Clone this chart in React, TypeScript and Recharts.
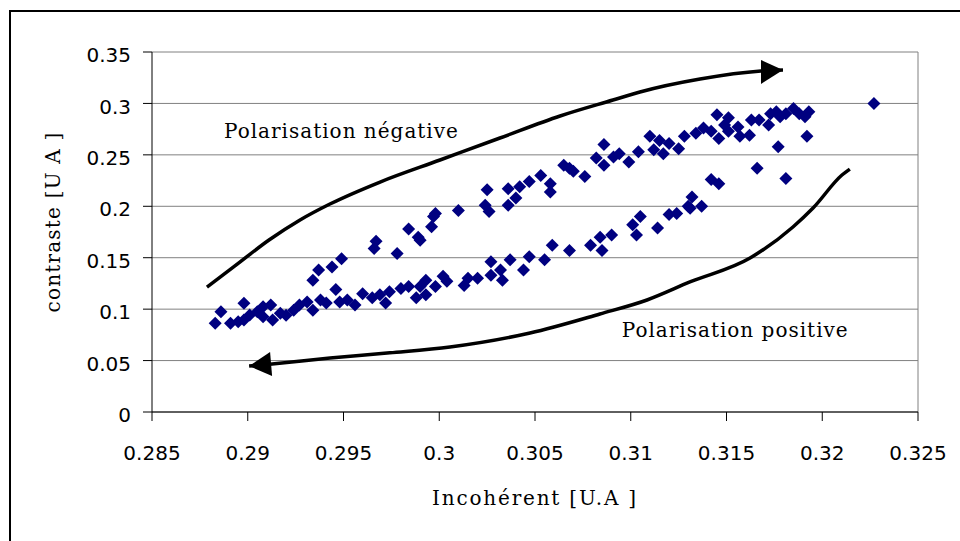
import { ScatterChart, Scatter, XAxis, YAxis, CartesianGrid, ReferenceLine, ReferenceDot, Label } from 'recharts';

const incoherent = [
  0.2883, 0.2886, 0.2891, 0.2895, 0.2898, 0.2898, 0.2901, 0.2905, 0.2908, 0.2908,
  0.2912, 0.2913, 0.2917, 0.2920, 0.2924, 0.2927, 0.2931, 0.2934, 0.2938, 0.2941,
  0.2946, 0.2948, 0.2952, 0.2956, 0.2960, 0.2965, 0.2969, 0.2972, 0.2974, 0.2980,
  0.2984, 0.2988, 0.2990, 0.2993, 0.2993, 0.2998, 0.3002, 0.3004, 0.3013, 0.3015,
  0.3020, 0.3027, 0.3027, 0.3032, 0.3033, 0.3037, 0.3044, 0.3047, 0.3055, 0.3059,
  0.3068, 0.3079, 0.3084, 0.3085, 0.3090, 0.3101, 0.3103, 0.3105, 0.3114, 0.3120,
  0.3124, 0.3130, 0.3131, 0.3132, 0.3137, 0.3142, 0.3146, 0.3166, 0.3181,
  0.2934, 0.2937, 0.2944, 0.2949, 0.2966, 0.2967, 0.2978, 0.2984, 0.2989, 0.2990,
  0.2996, 0.2997, 0.2998, 0.3010, 0.3024, 0.3025, 0.3026, 0.3036, 0.3036, 0.3040,
  0.3042, 0.3047, 0.3053, 0.3058, 0.3058, 0.3065, 0.3070, 0.3068, 0.3076, 0.3082,
  0.3086, 0.3086, 0.3091, 0.3094, 0.3099, 0.3104, 0.3110, 0.3112, 0.3115, 0.3117,
  0.3120, 0.3125, 0.3128, 0.3134, 0.3138, 0.3142, 0.3145, 0.3146, 0.3149, 0.3151,
  0.3151, 0.3156, 0.3157, 0.3162, 0.3163, 0.3167, 0.3172, 0.3173, 0.3176, 0.3178,
  0.3177, 0.3181, 0.3185, 0.3188, 0.3191, 0.3193, 0.3192, 0.3227,
];
const contraste = [
  0.0864, 0.0975, 0.0862, 0.0878, 0.1057, 0.0894, 0.0943, 0.0975, 0.1024, 0.0927,
  0.104, 0.0894, 0.096, 0.094, 0.099, 0.104, 0.107, 0.099, 0.109, 0.106,
  0.119, 0.107, 0.109, 0.104, 0.115, 0.111, 0.114, 0.106, 0.117, 0.120,
  0.122, 0.111, 0.122, 0.128, 0.114, 0.122, 0.132, 0.127, 0.123, 0.130,
  0.130, 0.146, 0.133, 0.138, 0.128, 0.148, 0.138, 0.151, 0.148, 0.162,
  0.157, 0.162, 0.170, 0.157, 0.172, 0.182, 0.172, 0.190, 0.179, 0.192,
  0.193, 0.200, 0.198, 0.209, 0.200, 0.226, 0.222, 0.237, 0.227,
  0.128, 0.138, 0.141, 0.149, 0.159, 0.166, 0.154, 0.178, 0.170, 0.167,
  0.180, 0.190, 0.193, 0.196, 0.201, 0.216, 0.195, 0.217, 0.201, 0.208,
  0.219, 0.224, 0.230, 0.222, 0.214, 0.240, 0.234, 0.237, 0.229, 0.247,
  0.260, 0.240, 0.248, 0.251, 0.243, 0.253, 0.268, 0.255, 0.264, 0.251,
  0.261, 0.256, 0.268, 0.271, 0.276, 0.273, 0.289, 0.266, 0.279, 0.286,
  0.273, 0.277, 0.268, 0.269, 0.284, 0.284, 0.279, 0.290, 0.292, 0.287,
  0.258, 0.290, 0.295, 0.290, 0.287, 0.292, 0.268, 0.300,
];

const xTicks = [0.285, 0.29, 0.295, 0.3, 0.305, 0.31, 0.315, 0.32, 0.325];
const yTicks = [0, 0.05, 0.1, 0.15, 0.2, 0.25, 0.3, 0.35];

// flèches dessinées à la main sur le graphique
const flecheNegX = [0.28787, 0.28933, 0.29111, 0.29273, 0.29429, 0.29691, 0.30004, 0.30317, 0.30631, 0.30907, 0.31048, 0.31362, 0.3168, 0.31795];
const flecheNegY = [0.1215, 0.142, 0.1672, 0.1867, 0.2022, 0.2236, 0.245, 0.2664, 0.2878, 0.3033, 0.3111, 0.3237, 0.3315, 0.3325];
const flechePosX = [0.29007, 0.29127, 0.2943, 0.29742, 0.30056, 0.30474, 0.30839, 0.31085, 0.31309, 0.31623, 0.31847, 0.31952, 0.32103, 0.32144];
const flechePosY = [0.0447, 0.0467, 0.0525, 0.0575, 0.0632, 0.0768, 0.0953, 0.1089, 0.1264, 0.1497, 0.1799, 0.1983, 0.2304, 0.2362];

const points = incoherent.map((x, i) => ({ x, y: contraste[i] }));
const toArrow = (xs: number[], ys: number[], head: number) =>
  xs.map((x, i) => ({ x, y: ys[i], head: i === head }));
const flecheNeg = toArrow(flecheNegX, flecheNegY, flecheNegX.length - 1);
const flechePos = toArrow(flechePosX, flechePosY, 0);

const serifFont = '"DejaVu Serif", "Liberation Serif", serif';
const tickStyle = { fontSize: 20, fill: '#000', fontFamily: '"DejaVu Sans", Verdana, sans-serif' };

const Diamond = (p: any) => {
  const { cx, cy } = p;
  const r = 6.5;
  return <polygon points={`${cx},${cy - r} ${cx + r},${cy} ${cx},${cy + r} ${cx - r},${cy}`} fill="#000080" />;
};

const arrowHead = (pts: number[][]) => (p: any) =>
  p.payload && p.payload.head ? (
    <polygon points={pts.map(([dx, dy]) => `${p.cx + dx},${p.cy + dy}`).join(' ')} fill="#000" />
  ) : (
    <g />
  );

const annot = (text: string) => (p: any) => (
  <text x={p.cx} y={p.cy} fontFamily={serifFont} fontSize={20} letterSpacing={1} fill="#000">
    {text}
  </text>
);

export default function App() {
  return (
    <div style={{ position: 'absolute', left: 0, top: 0, width: 960, height: 541, overflow: 'hidden', background: '#fff' }}>
      <div style={{ position: 'absolute', left: 9, top: 10, width: 1000, height: 600, borderLeft: '2px solid #000', borderTop: '2px solid #000' }} />
      <div style={{ position: 'absolute', left: 0, top: 0 }}>
        <ScatterChart width={960} height={541} margin={{ top: 52, right: 42, bottom: 0, left: 0 }}>
          <CartesianGrid vertical={false} stroke="#808080" />
          <XAxis
            type="number"
            dataKey="x"
            domain={[0.285, 0.325]}
            ticks={xTicks}
            height={129}
            stroke="#000"
            tickSize={9}
            tickMargin={25}
            tick={tickStyle}
            tickFormatter={(v: number) => String(v)}
            label={{ value: 'Incohérent [U.A ]', position: 'insideBottom', offset: 36, fontFamily: serifFont, fontSize: 20, letterSpacing: 1.8, fill: '#000' }}
          />
          <YAxis
            type="number"
            dataKey="y"
            domain={[0, 0.35]}
            ticks={yTicks}
            width={152}
            stroke="#000"
            tickSize={9}
            tickMargin={12}
            tick={{ ...tickStyle, dy: 3 }}
            tickFormatter={(v: number) => String(v)}
          >
            <Label
              content={(props: any) => {
                const vb = props.viewBox || { x: 0, y: 52, height: 360 };
                const cx = vb.x + 60;
                const cy = vb.y + vb.height / 2 - 10;
                return (
                  <text transform={`translate(${cx},${cy}) rotate(-90)`} textAnchor="middle" fontFamily={serifFont} fontSize={20} letterSpacing={1.2} fill="#000">
                    contraste [U A ]
                  </text>
                );
              }}
            />
          </YAxis>
          <ReferenceLine x={0.325} stroke="#808080" />
          <Scatter data={points} shape={Diamond} isAnimationActive={false} />
          <Scatter
            data={flecheNeg}
            line={{ stroke: '#000', strokeWidth: 3.5 }}
            lineJointType="monotoneX"
            shape={arrowHead([[0, 0], [-22, -10], [-22, 14]])}
            isAnimationActive={false}
          />
          <Scatter
            data={flechePos}
            line={{ stroke: '#000', strokeWidth: 3.5 }}
            lineJointType="monotoneX"
            shape={arrowHead([[0, 0], [21, -14], [23, 10]])}
            isAnimationActive={false}
          />
          <ReferenceDot x={0.28876} y={0.2664} r={0} shape={annot('Polarisation négative')} />
          <ReferenceDot x={0.30953} y={0.0732} r={0} shape={annot('Polarisation positive')} />
        </ScatterChart>
      </div>
    </div>
  );
}
